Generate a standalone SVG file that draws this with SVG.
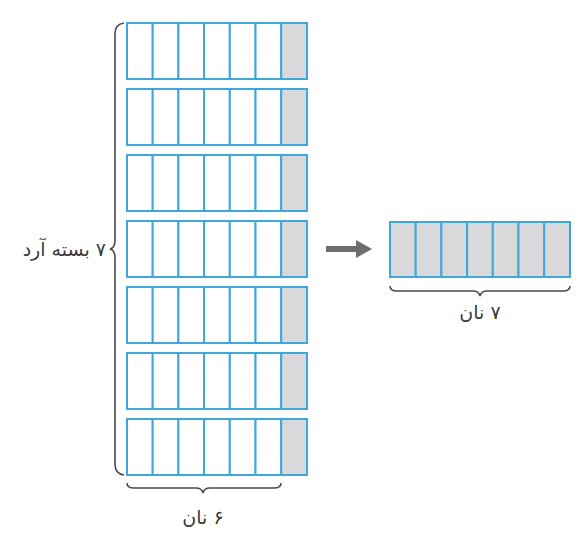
<svg xmlns="http://www.w3.org/2000/svg" width="585" height="538" viewBox="0 0 585 538">
<defs>
<style>
.c{fill:#ffffff;stroke:#3ea8dc;stroke-width:2}
.g{fill:#d9d8da;stroke:#3ea8dc;stroke-width:2}
.br{fill:none;stroke:#4a4a4a;stroke-width:1.6}
.t{font-family:"DejaVu Sans",sans-serif;font-size:19px;fill:#3a3a3a}
</style>
<g id="row">
<rect class="c" x="127" y="0" width="25.7" height="56"/>
<rect class="c" x="152.7" y="0" width="25.7" height="56"/>
<rect class="c" x="178.4" y="0" width="25.7" height="56"/>
<rect class="c" x="204.1" y="0" width="25.7" height="56"/>
<rect class="c" x="229.8" y="0" width="25.7" height="56"/>
<rect class="c" x="255.5" y="0" width="25.7" height="56"/>
<rect class="g" x="281.2" y="0" width="25.8" height="56"/>
</g>
</defs>
<g id="packs">
<use href="#row" y="23"/>
<use href="#row" y="89"/>
<use href="#row" y="155"/>
<use href="#row" y="221"/>
<use href="#row" y="287"/>
<use href="#row" y="353"/>
<use href="#row" y="419"/>
</g>
<g id="result">
<rect class="g" x="390" y="222" width="25.7" height="55"/>
<rect class="g" x="415.7" y="222" width="25.7" height="55"/>
<rect class="g" x="441.4" y="222" width="25.7" height="55"/>
<rect class="g" x="467.1" y="222" width="25.7" height="55"/>
<rect class="g" x="492.8" y="222" width="25.7" height="55"/>
<rect class="g" x="518.5" y="222" width="25.7" height="55"/>
<rect class="g" x="544.2" y="222" width="25.8" height="55"/>
</g>
<g id="connectors">
<path d="M326,246 H356 V240 L372,249 L356,258 V252 H326 Z" fill="#6d6d6d"/>
<path class="br" d="M124,23 Q115,24 115,34 V240 Q115,248 110,249 Q115,250 115,258 V464 Q115,474 124,475"/>
<path class="br" d="M127,483 Q127,488 134,488 H196 Q202,488 203,493 Q204,488 210,488 H274 Q281,488 281,483"/>
<path class="br" d="M390,286 Q390,291 397,291 H473 Q479,291 480,296 Q481,291 487,291 H563 Q570,291 570,286"/>
</g>
<g id="labels">
<text class="t" x="106" y="256" text-anchor="start" direction="rtl">۷ بسته آرد</text>
<text class="t" x="480" y="319" text-anchor="middle" direction="rtl">۷ نان</text>
<text class="t" x="203" y="524" text-anchor="middle" direction="rtl">۶ نان</text>
</g>
</svg>
